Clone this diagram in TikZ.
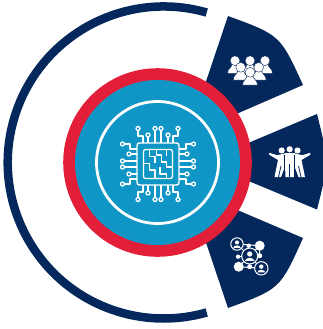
\documentclass[tikz,border=0pt]{standalone}
\definecolor{navy}{HTML}{05285C}
\definecolor{redc}{HTML}{E31E38}
\definecolor{tealc}{HTML}{0F96C6}
\tikzset{x=1pt,y=-1pt,
  sector/.style={fill=navy,draw=none},
  pinline/.style={draw=white,line width=1.3pt,line join=round},
  pinhead/.style={draw=white,fill=tealc,line width=1.3pt},
  mazeline/.style={draw=white,line width=1.3pt,line join=round},
  personfill/.style={fill=white,draw=navy,line width=0.5pt},
  netline/.style={draw=white,line width=1pt},
  netring/.style={draw=white,fill=navy,line width=1pt},
  netdot/.style={fill=white,draw=none}}
\newcommand{\crowdperson}[2]{%
  \path[personfill] (#1-2.8,#2+3) .. controls (#1-3,#2+7) and (#1-7.5,#2+7.5) .. (#1-7.5,#2+12.8)
    -- (#1+7.5,#2+12.8) .. controls (#1+7.5,#2+7.5) and (#1+3,#2+7) .. (#1+2.8,#2+3) -- cycle;
  \path[fill=white,draw=navy,line width=0.4pt] (#1,#2) circle (4.9);}
\newcommand{\netperson}[3]{%
  \path[netring] (#1,#2) circle (#3);
  \path[fill=white] (#1,#2-0.25*#3) circle (0.33*#3);
  \path[fill=white] (#1-0.6*#3,#2+0.62*#3) .. controls (#1-0.55*#3,#2+0.1*#3) and (#1+0.55*#3,#2+0.1*#3) .. (#1+0.6*#3,#2+0.62*#3) -- cycle;}
\begin{document}
\begin{tikzpicture}
\useasboundingbox (0,0) rectangle (323,329);
% outer arc
\coordinate (ringc) at (163.75,162.5);
\draw[navy,line width=8.5pt] (ringc) ++(-74:156) arc[start angle=-74,end angle=-286,radius=156];
% sectors
\path[sector] (188,135) -- (228,16) .. controls (280.2,35.1) .. (303,85) -- cycle;
\path[sector] (203,162) -- (317,114) .. controls (329,162) .. (317,209.5) -- cycle;
\path[sector] (188,189) -- (303,238) .. controls (280.2,288.9) .. (228,308) -- cycle;
% discs
\coordinate (hub) at (157.5,162.5);
\fill[redc] (hub) circle (94.3);
\fill[tealc] (hub) circle (82.5);
\draw[white,line width=2.8pt] (hub) circle (61);
% chip
\begin{scope}[shift={(158,164)}]
 \foreach \r in {0,90,180,270}{
  \begin{scope}[rotate=\r]
   \path[pinline] (-20,-34) -- (-20,-28) -- (-15,-28) -- (-15,-21);
   \path[pinline] (20,-34) -- (20,-28) -- (15,-28) -- (15,-21);
   \foreach \xx in {-10,10}{\path[pinline] (\xx,-28) -- (\xx,-21);
     \path[pinhead] (\xx,-29) circle (2);}
   \foreach \xx in {-3,3}{\path[pinline] (\xx,-34) -- (\xx,-21);
     \path[pinhead] (\xx,-35.5) circle (2);}
   \foreach \xx in {-20,20}{\path[pinhead] (\xx,-35.5) circle (2);}
  \end{scope}}
 \draw[white,line width=1.4pt,rounded corners=2.5pt] (-21,-21) rectangle (21,21);
 \draw[white,line width=1.3pt,rounded corners=2pt] (-14.5,-14.5) rectangle (14.5,14.5);
 \path[mazeline] (-8.7,-14) -- (-8.7,-7.3) -- (-3,-7.3) -- (-3,-0.7);
 \path[mazeline] (-1.3,-14) -- (-1.3,-9) -- (3.7,-9) -- (3.7,-2) -- (8.7,-2) -- (8.7,3) -- (14.4,3);
 \path[mazeline] (-14.4,-0.7) -- (-8.7,-0.7) -- (-8.7,6) -- (-3,6) -- (-3,14.4);
 \path[mazeline] (2,2.7) -- (2,10) -- (8.7,10) -- (8.7,14.4);
 \path[mazeline] (8.7,-14) -- (8.7,-8);
\end{scope}
% crowd icon
\crowdperson{235}{60.7}
\crowdperson{265}{60.7}
\crowdperson{250}{60.7}
\crowdperson{240.7}{67.3}
\crowdperson{258.7}{67.3}
\crowdperson{250}{72.3}
% three men icon
\begin{scope}
 \fill[white] (269.5,152.8) -- (277,155.2) -- (285,153.5) -- (285.5,165) -- (281,177) -- (274.5,177) -- (278,160) -- (269,154.6) -- cycle;
 \fill[white] (310,152.8) -- (302.5,155.2) -- (294.5,153.5) -- (294,165) -- (298.5,177) -- (305,177) -- (301.5,160) -- (310.5,154.6) -- cycle;
 \fill[white] (284.5,153) -- (295,153) -- (294,177) -- (285.5,177) -- cycle;
 \draw[navy,line width=0.8pt] (278.5,177) -- (281,166);
 \draw[navy,line width=0.8pt] (301,177) -- (298.5,166);
 \draw[navy,line width=0.8pt] (289.7,177) -- (289.7,164);
 \draw[navy,line width=0.6pt] (284.7,177) -- (284.7,155);
 \draw[navy,line width=0.6pt] (294.7,177) -- (294.7,155);
 \fill[white] (281.7,150.5) circle (3.1);
 \fill[white] (289.7,149.3) circle (3.1);
 \fill[white] (297.5,150.5) circle (3.1);
\end{scope}
% network icon
\path[netline] (237,244) -- (261.3,268.3);
\path[netline] (259.7,245.7) -- (238.7,266.7);
\path[netline] (237,244) -- (259.7,245.7);
\path[netline] (238.7,266.7) -- (261.3,268.3);
\path[netline] (259.7,245.7) -- (259.7,255.7) -- (249.7,256);
\path[netline] (238,256.7) -- (249.7,256);
\path[netdot] (259.7,245.7) circle (5);
\path[netdot] (238.7,266.7) circle (5);
\path[netdot] (248.7,245.7) circle (2.2);
\path[netdot] (259.7,255.7) circle (2.5);
\path[netdot] (238,256.7) circle (2.2);
\path[netdot] (249.7,266.7) circle (2.5);
\netperson{237}{244}{6.2}
\netperson{249.7}{256}{8}
\netperson{261.3}{268.3}{6.7}
\end{tikzpicture}
\end{document}
